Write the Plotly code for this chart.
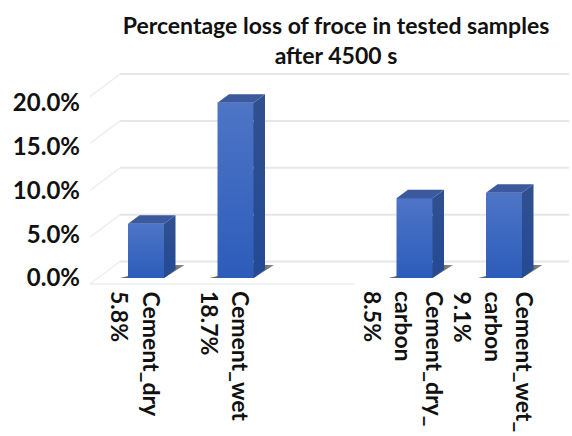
import plotly.graph_objects as go

FONT = "Lato, Carlito, Calibri, sans-serif"
TEXT = "#111111"

# Chart data
positions = [0, 1, 3, 4]
values = [5.8, 18.7, 8.5, 9.1]
category_lines = [
    ["Cement_dry"],
    ["Cement_wet"],
    ["Cement_dry_", "carbon"],
    ["Cement_wet_", "carbon"],
]
tick_values = [0, 5, 10, 15, 20]
tick_labels = ["0.0%", "5.0%", "10.0%", "15.0%", "20.0%"]
title_text = "Percentage loss of froce in tested samples<br>after 4500 s"

# Canvas scale: one value unit and one category step, in pixels
W, H = 572, 436
LEFT = 81
PX_PER_UNIT = 9.37
PX_PER_CAT = 89.5
BASE_PX = 278
FIRST_CENTER_PX = 146


def dx(px):
    return px / PX_PER_CAT


def dy(px):
    return px / PX_PER_UNIT


x_range = [(LEFT - FIRST_CENTER_PX) / PX_PER_CAT, (W - FIRST_CENTER_PX) / PX_PER_CAT]
y_range = [(BASE_PX - H) / PX_PER_UNIT, BASE_PX / PX_PER_UNIT]

# Tick labels sit on a slightly compressed scale of their own
LABEL_PX_PER_UNIT = 8.75
y2_range = [(BASE_PX - H) / LABEL_PX_PER_UNIT, BASE_PX / LABEL_PX_PER_UNIT]

BAR_W = dx(36)
DEPTH_X, DEPTH_Y = dx(11.5), dy(8.5)
WALL_BACK = dy(16.5)
WALL_FRONT = dy(-6)
WALL_LEFT = (90 - FIRST_CENTER_PX) / PX_PER_CAT
WALL_INNER = (120 - FIRST_CENTER_PX) / PX_PER_CAT
WALL_RIGHT = (569 - FIRST_CENTER_PX) / PX_PER_CAT
FLOOR_END = (355 - FIRST_CENTER_PX) / PX_PER_CAT

fig = go.Figure()


def line(xs, ys, color="#e6e6e6", width=2):
    fig.add_trace(go.Scatter(x=xs, y=ys, mode="lines", hoverinfo="skip", showlegend=False,
                             line=dict(color=color, width=width)))


def poly(xs, ys, color=None, gradient=None):
    style = dict(fillcolor=color) if color else dict(fillgradient=gradient)
    fig.add_trace(go.Scatter(x=xs, y=ys, mode="lines", fill="toself", hoverinfo="skip",
                             showlegend=False, line=dict(width=0), **style))


# Back wall gridlines and their return along the side wall
for t in tick_values:
    line([WALL_INNER, WALL_RIGHT], [t + WALL_BACK, t + WALL_BACK])
    line([WALL_LEFT, WALL_INNER], [t + WALL_FRONT, t + WALL_BACK], color="#eeeeee", width=1.5)
line([WALL_LEFT, FLOOR_END], [WALL_FRONT, WALL_FRONT], color="#eeeeee", width=1.5)

# Floor shadows
for p in positions:
    l, r = p - BAR_W / 2, p + BAR_W / 2
    poly([l - dx(8), r, r + DEPTH_X + dx(9), r + DEPTH_X - dx(2), l - dx(8)],
         [0, 0, dy(13), dy(13), 0],
         gradient=dict(type="horizontal",
                       colorscale=[[0, "#6e6e6e"], [0.5, "#3c3c3c"], [1, "#8a8a8a"]]))

# Front faces
fig.add_trace(go.Bar(x=positions, y=values, width=BAR_W, showlegend=False,
                     marker=dict(color="#3d68c0", line=dict(width=0))))

for p, v in zip(positions, values):
    l, r = p - BAR_W / 2, p + BAR_W / 2
    # Shaded front
    poly([l, r, r, l, l], [0, 0, v, v, 0],
         gradient=dict(type="vertical", colorscale=[[0, "#2c5cba"], [1, "#4e75c6"]]))
    # Right side
    poly([r, r + DEPTH_X, r + DEPTH_X, r, r],
         [0, DEPTH_Y, v + DEPTH_Y, v, 0],
         gradient=dict(type="vertical", colorscale=[[0, "#234a94"], [1, "#31508f"]]))
    # Top
    poly([l, r, r + DEPTH_X, l + DEPTH_X, l],
         [v, v, v + DEPTH_Y, v + DEPTH_Y, v], color="#3b5a9e")

# Carrier for the tick-label axis
fig.add_trace(go.Scatter(x=[positions[0]], y=[tick_values[0]], yaxis="y2", mode="markers",
                         marker=dict(opacity=0), hoverinfo="skip", showlegend=False))

# Rotated category names with the value as the last line
LABEL_TOP = dy(278 - 289)
LINE_GAP = 31
annotations = []
for p, v, lines in zip(positions, values, category_lines):
    rows = lines + [f"{v:.1f}%"]
    centre = (len(rows) - 1) / 2
    for k, row in enumerate(rows):
        annotations.append(dict(
            x=p, y=LABEL_TOP, xref="x", yref="y", text=row, textangle=90, showarrow=False,
            xanchor="center", yanchor="top", xshift=-10 + (centre - k) * LINE_GAP,
            font=dict(family=FONT, size=23, color=TEXT, weight="bold"),
        ))

fig.update_layout(
    width=W, height=H,
    margin=dict(l=LEFT, r=0, t=0, b=0),
    paper_bgcolor="white", plot_bgcolor="white",
    showlegend=False,
    bargap=0,
    title=dict(text=title_text, x=336 / W, xanchor="center", y=1 - 34 / H, yanchor="top",
               pad=dict(t=0),
               font=dict(family=FONT, size=23, color=TEXT, weight="bold")),
    xaxis=dict(range=x_range, visible=False, fixedrange=True),
    yaxis=dict(range=y_range, visible=False, fixedrange=True),
    yaxis2=dict(range=y2_range, overlaying="y", side="left", anchor="x",
                tickvals=tick_values, ticktext=tick_labels, showgrid=False, zeroline=False,
                showline=False, ticks="", fixedrange=True,
                tickfont=dict(family=FONT, size=24, color=TEXT, weight="bold")),
    annotations=annotations,
)

fig.write_html("out.html", config={"displayModeBar": False})
